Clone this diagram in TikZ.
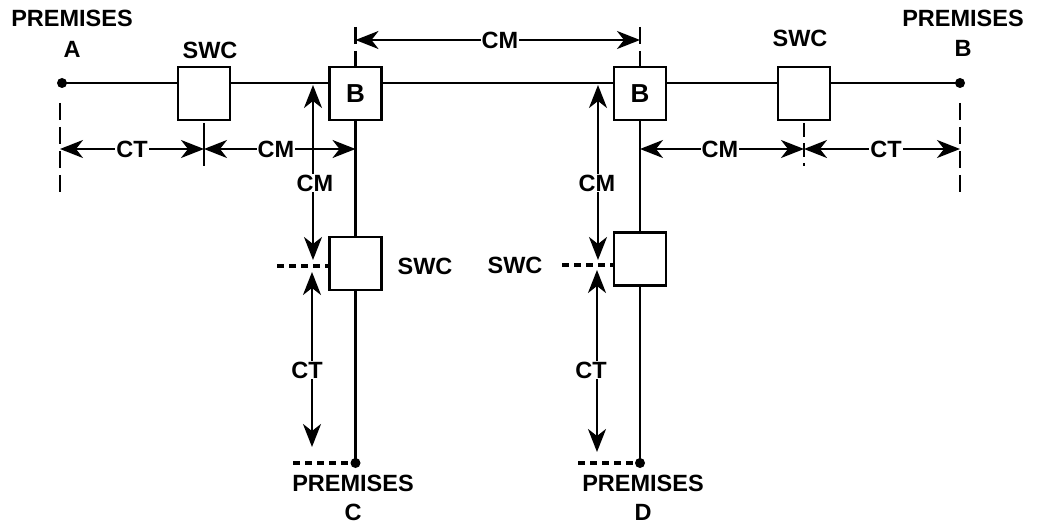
\documentclass[tikz,border=0pt]{standalone}
\usepackage{fontspec}
\setmainfont{Liberation Sans}
\usetikzlibrary{arrows.meta}
\begin{document}
\begin{tikzpicture}[x=1pt,y=-1pt,
 box/.style={draw,line width=2.4pt,minimum width=52pt,minimum height=53pt,inner sep=0pt,fill=white,font=\fontsize{26}{30}\selectfont\bfseries},
 wire/.style={line width=2.4pt},
 dot/.style={circle,fill,inner sep=0pt,minimum size=10pt},
 tip/.tip={Stealth[length=23pt,width=18pt,inset=7pt]},
 dim/.style={line width=2.4pt,tip-tip},
 lbl/.style={font=\fontsize{23.5}{28}\selectfont\bfseries,inner sep=0pt},
 dimlbl/.style={lbl,fill=white,inner sep=1pt},
 ext/.style={line width=2.8pt,dash pattern=on 17pt off 7pt},
 exts/.style={line width=2.8pt,dash pattern=on 14pt off 6pt},
 hext/.style={line width=3.2pt,dash pattern=on 7pt off 5pt},
 ]
\useasboundingbox (0,0) rectangle (1037,524);
% nodes
\node[dot] (pa) at (62,83) {};
\node[box] (s1) at (204,93.5) {};
\node[box] (b1) at (355.5,93.5) {B};
\node[box] (b2) at (640,93.5) {B};
\node[box] (s2) at (804,93.5) {};
\node[dot] (pb) at (960,83) {};
\node[box] (s3) at (355.5,263.5) {};
\node[box] (s4) at (640,259) {};
\node[dot] (pc) at (355.5,463) {};
\node[dot] (pd) at (640,463) {};
% wires
\draw[wire] (pa.center) -- (s1.west |- pa.center);
\draw[wire] (s1.east |- pa.center) -- (b1.west |- pa.center);
\draw[wire] (b1.east |- pa.center) -- (b2.west |- pa.center);
\draw[wire] (b2.east |- pa.center) -- (s2.west |- pa.center);
\draw[wire] (s2.east |- pa.center) -- (pb.center);
\draw[wire] (b1.south) -- (s3.north);
\draw[wire] (s3.south) -- (pc.center);
\draw[wire] (b2.south) -- (s4.north);
\draw[wire] (s4.south) -- (pd.center);
% extension lines
\coordinate (eA1) at (60,103); \coordinate (eA2) at (60,192);
\coordinate (eB1) at (960,103); \coordinate (eB2) at (960,192);
\coordinate (eS1a) at (204,123); \coordinate (eS1b) at (204,166);
\coordinate (eS2a) at (804,123); \coordinate (eS2b) at (804,166);
\coordinate (eT1) at (355.5,27); \coordinate (eT2) at (640,27);
\coordinate (eC1) at (277,266); \coordinate (eC2) at (329.5,266);
\coordinate (eD1) at (562,265); \coordinate (eD2) at (614,265);
\coordinate (eC3) at (293,463); \coordinate (eD3) at (578,463);
\draw[ext] (eA1) -- (eA2);
\draw[ext] (eB1) -- (eB2);
\draw[wire] (eS1a) -- (eS1b);
\draw[exts] (eS2a) -- (eS2b);
\draw[ext] (eT1) -- (b1.north);
\draw[ext] (eT2) -- (b2.north);
\draw[hext] (eC1) -- (eC2);
\draw[hext] (eD1) -- (eD2);
\draw[hext] (eC3) -- (pc.center);
\draw[hext] (eD3) -- (pd.center);
% dimension arrows
\coordinate (hA) at (60,149); \coordinate (hS1) at (204,149);
\coordinate (hB1) at (355.5,149); \coordinate (hB2) at (640,149);
\coordinate (hS2) at (804,149); \coordinate (hB) at (960,149);
\coordinate (tB1) at (355.5,40); \coordinate (tB2) at (640,40);
\coordinate (vC1) at (313,85); \coordinate (vC2) at (313,260);
\coordinate (vC3) at (312,272); \coordinate (vC4) at (312,447);
\coordinate (vD1) at (598,85); \coordinate (vD2) at (598,260);
\coordinate (vD3) at (597,270); \coordinate (vD4) at (597,452);
\draw[dim] (hA) -- (hS1);
\draw[dim] (hS1) -- (hB1);
\draw[dim] (hB2) -- (hS2);
\draw[dim] (hS2) -- (hB);
\draw[dim] (tB1) -- (tB2);
\draw[dim] (vC1) -- (vC2);
\draw[dim] (vC3) -- (vC4);
\draw[dim] (vD1) -- (vD2);
\draw[dim] (vD3) -- (vD4);
% dimension labels
\node[dimlbl] (l1) at (132,149) {CT};
\node[dimlbl] (l2) at (276,149) {CM};
\node[dimlbl] (l3) at (720,149) {CM};
\node[dimlbl] (l4) at (886,149) {CT};
\node[dimlbl] (l5) at (500,40) {CM};
\node[dimlbl] (l6) at (315,183) {CM};
\node[dimlbl] (l7) at (307,370) {CT};
\node[dimlbl] (l8) at (597,183) {CM};
\node[dimlbl] (l9) at (591,370) {CT};
% text labels
\node[lbl] (tpa) at (72,18) {PREMISES};
\node[lbl] (tpa2) at (72,49) {A};
\node[lbl] (tpb) at (963,18) {PREMISES};
\node[lbl] (tpb2) at (963,48) {B};
\node[lbl] (ts1) at (210,50) {SWC};
\node[lbl] (ts2) at (800,38) {SWC};
\node[lbl] (ts3) at (425,266) {SWC};
\node[lbl] (ts4) at (515,265) {SWC};
\node[lbl] (tpc) at (353,483) {PREMISES};
\node[lbl] (tpc2) at (353,512) {C};
\node[lbl] (tpd) at (643,483) {PREMISES};
\node[lbl] (tpd2) at (643,512) {D};
\end{tikzpicture}
\end{document}
